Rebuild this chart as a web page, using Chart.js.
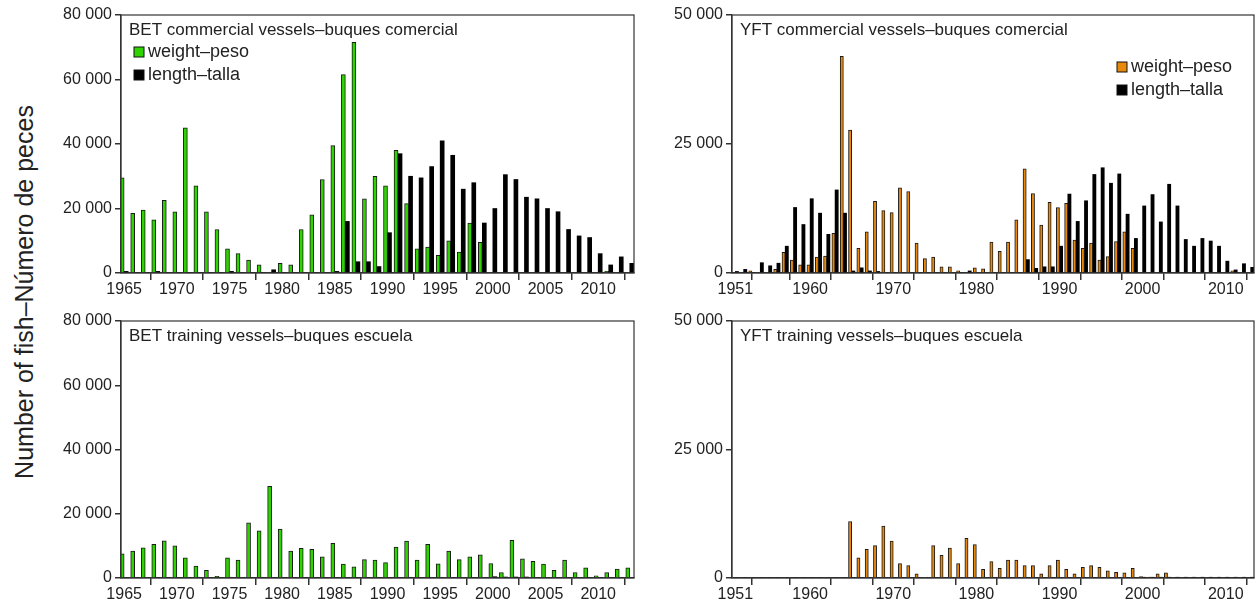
<!DOCTYPE html>
<html>
<head>
<meta charset="utf-8">
<script src="https://cdn.jsdelivr.net/npm/chart.js@4.4.0/dist/chart.umd.min.js"></script>
<style>
  body { margin: 0; background: #fff; width: 1257px; height: 613px; overflow: hidden; position: relative; font-family: Arial, "Liberation Sans", sans-serif; }
  .panel { position: absolute; }
  #ylab { position: absolute; left: 24px; top: 292px; transform: translate(-50%, -50%) rotate(-90deg); font-size: 25px; color: #222; white-space: nowrap; }
</style>
</head>
<body>
<div id="ylab">Number of fish–Número de peces</div>
<div class="panel" style="left:40px;top:0;width:600px;height:300px"><canvas id="betCom"></canvas></div>
<div class="panel" style="left:40px;top:306px;width:600px;height:300px"><canvas id="betTrn"></canvas></div>
<div class="panel" style="left:650px;top:0;width:607px;height:300px"><canvas id="yftCom"></canvas></div>
<div class="panel" style="left:650px;top:306px;width:607px;height:300px"><canvas id="yftTrn"></canvas></div>
<script>
// years
const betYears = [];
for (let y = 1965; y <= 2013; y++) betYears.push(y);
const yftYears = [];
for (let y = 1951; y <= 2013; y++) yftYears.push(y);

// BET commercial (1965-2013)
const betComWeight = [29500,18500,19500,16500,22500,19000,45000,27000,19000,13500,7500,6000,4000,2500,0,3000,2500,13500,18000,29000,39500,61500,71500,23000,30000,27000,38000,21500,7500,8000,5500,10000,6500,15500,9500,0,0,0,0,0,0,0,0,0,0,0,500,0,0];
const betComLength = [500,0,0,500,0,0,0,0,0,0,500,0,0,0,1000,0,0,0,0,0,500,16000,3500,3500,2000,12500,37000,30000,29500,33000,41000,36500,26000,28000,15500,20000,30500,29000,23500,23000,20000,19000,13500,11500,11000,6000,2500,5000,3000];

// BET training (1965-2013)
const betTrnWeight = [7500,8400,9400,10500,11600,10000,6300,3700,2400,500,6300,5600,17200,14700,28500,15200,8400,9200,8900,6600,10800,4300,3500,5700,5600,4800,9600,11500,5600,10500,4400,8400,5700,6600,7200,4500,1700,11700,6000,5200,4300,2400,5600,1700,3200,700,1700,2800,3200];
const betTrnLength = [0,0,0,0,0,0,0,0,0,0,0,0,0,0,0,0,0,0,0,0,0,0,0,0,0,0,0,0,0,0,0,0,0,0,0,400,300,300,300,0,0,0,0,0,0,0,0,0,0];

// YFT commercial (1951-2013)
const yftComWeight = [0,0,400,0,0,700,4000,2500,1600,1600,3100,3300,7700,42000,27700,4800,8000,13900,12100,11700,16500,15800,5800,2800,3100,1200,1200,400,0,1000,800,6000,4200,6000,10300,20200,15400,9300,13700,12700,13500,6400,4800,5800,2500,3200,6100,8000,4800,0,0,0,0,0,0,0,0,0,0,0,400,0,0];
const yftComLength = [300,700,0,2000,1400,1900,5200,12700,9400,14400,11600,7500,16100,11600,400,1000,400,300,0,0,0,0,0,0,0,0,0,0,400,0,0,0,0,0,0,2600,900,1200,1200,5200,15300,10000,14000,19100,20400,17400,19200,11400,6700,13000,15200,9900,17200,13000,6500,5200,6700,6200,5200,2300,600,1800,1100];

// YFT training (1951-2013)
const yftTrnWeight = [0,0,0,0,0,0,0,0,0,0,0,0,0,0,11000,3900,5600,6300,10100,7200,2800,2400,800,100,6300,4400,5800,2800,7700,6500,1700,3200,1900,3500,3500,2400,2400,800,2400,3500,1700,800,2100,2400,2100,1400,1100,1000,1900,300,200,800,1000,0,0,0,0,0,0,0,0,0,0];
const yftTrnLength = [0,0,0,0,0,0,0,0,0,0,0,0,0,0,0,0,0,0,0,0,0,0,0,0,0,0,0,0,0,0,0,0,0,0,0,0,0,0,0,0,0,0,0,0,0,0,0,0,0,150,150,150,150,150,150,150,150,150,150,150,150,150,150];

const betTicks = [1965,1970,1975,1980,1985,1990,1995,2000,2005,2010];
const yftTicks = [1951,1955,1960,1965,1970,1975,1980,1985,1990,1995,2000,2005,2010];
const yftLabeled = [1951,1960,1970,1980,1990,2000,2010];

const GREEN = '#2fd400';
const ORANGE = '#e8890c';
const FONT = 'Arial, "Liberation Sans"';

function fmt(v) {
    return String(v).replace(/\B(?=(\d{3})+(?!\d))/g, ' ');
}

const panelPlugin = {
    id: 'panel',
    afterDraw(chart, args, opts) {
        const ctx = chart.ctx;
        const a = chart.chartArea;
        ctx.save();
        ctx.strokeStyle = '#333';
        ctx.lineWidth = 1.2;
        ctx.strokeRect(a.left, a.top, a.right - a.left, a.bottom - a.top);
        ctx.fillStyle = '#222';
        ctx.font = '17px ' + FONT;
        ctx.textBaseline = 'middle';
        ctx.fillText(opts.title, a.left + 8, a.top + 15);
        (opts.legend || []).forEach((item, i) => {
            const x = opts.legendX, y = opts.legendY + i * 23;
            ctx.fillStyle = item.color;
            ctx.fillRect(x, y - 5, 10, 10);
            ctx.strokeStyle = '#111';
            ctx.lineWidth = 1;
            ctx.strokeRect(x, y - 5, 10, 10);
            ctx.fillStyle = '#222';
            ctx.font = '18px ' + FONT;
            ctx.fillText(item.label, x + 14, y);
        });
        ctx.restore();
    }
};

function makeChart(id, years, weight, length, color, opts) {
    const toXY = arr => arr.map((v, i) => ({x: years[i], y: v}));
    new Chart(document.getElementById(id), {
        type: 'bar',
        data: {
            datasets: [
                {label: 'weight–peso', data: toXY(weight), backgroundColor: color, borderColor: '#1a1a1a', borderWidth: 1,
                 barThickness: opts.bw},
                {label: 'length–talla', data: toXY(length), backgroundColor: '#000', borderColor: '#000', borderWidth: 0,
                 barThickness: opts.bw}
            ]
        },
        plugins: [panelPlugin],
        options: {
            responsive: true,
            maintainAspectRatio: false,
            animation: false,
            layout: {padding: {top: 15, right: opts.padRight, left: 0, bottom: 0}},
            plugins: {
                legend: {display: false},
                tooltip: {enabled: false},
                panel: {title: opts.title, legend: opts.legend, legendX: opts.legendX, legendY: opts.legendY}
            },
            scales: {
                x: {
                    type: 'linear',
                    min: opts.xmin, max: opts.xmax,
                    offset: false,
                    afterBuildTicks: s => { s.ticks = opts.xticks.map(v => ({value: v})); },
                    afterFit: s => { s.height = opts.xh; },
                    grid: {drawOnChartArea: false, drawTicks: true, tickLength: 7, color: '#333', lineWidth: 1.5},
                    border: {display: true, color: '#333', width: 1.2},
                    ticks: {
                        autoSkip: false, maxRotation: 0, color: '#222', padding: 0,
                        font: {size: 16, family: FONT},
                        callback: v => opts.xlabeled.includes(v) ? String(v) : ''
                    }
                },
                y: {
                    min: 0, max: opts.ymax,
                    afterBuildTicks: s => { s.ticks = opts.yticks.map(v => ({value: v})); },
                    afterFit: s => { s.width = opts.yw; },
                    grid: {drawOnChartArea: false, drawTicks: true, tickLength: 6, color: '#333', lineWidth: 1.5},
                    border: {display: true, color: '#333', width: 1.2},
                    ticks: {color: '#222', padding: 3, font: {size: 16, family: FONT}, callback: v => fmt(v)}
                }
            }
        }
    });
}

const betBase = {xmin: 1964.7, xmax: 2013.4, xticks: betTicks, xlabeled: betTicks, ymax: 80000,
    yticks: [0,20000,40000,60000,80000], yw: 81, padRight: 6, bw: 4};
const yftBase = {xmin: 1950.6, xmax: 2013.4, xticks: yftTicks, xlabeled: yftLabeled, ymax: 50000,
    yticks: [0,25000,50000], yw: 82, padRight: 3, bw: 3.2};

makeChart('betCom', betYears, betComWeight, betComLength, GREEN, Object.assign({}, betBase, {
    xh: 27, title: 'BET commercial vessels–buques comercial',
    legend: [{label: 'weight–peso', color: GREEN}, {label: 'length–talla', color: '#000'}], legendX: 94, legendY: 52
}));
makeChart('betTrn', betYears, betTrnWeight, betTrnLength, GREEN, Object.assign({}, betBase, {
    xh: 28, title: 'BET training vessels–buques escuela', legend: []
}));
makeChart('yftCom', yftYears, yftComWeight, yftComLength, ORANGE, Object.assign({}, yftBase, {
    xh: 27, title: 'YFT commercial vessels–buques comercial',
    legend: [{label: 'weight–peso', color: ORANGE}, {label: 'length–talla', color: '#000'}], legendX: 467, legendY: 67
}));
makeChart('yftTrn', yftYears, yftTrnWeight, yftTrnLength, ORANGE, Object.assign({}, yftBase, {
    xh: 28, title: 'YFT training vessels–buques escuela', legend: []
}));
</script>
</body>
</html>
